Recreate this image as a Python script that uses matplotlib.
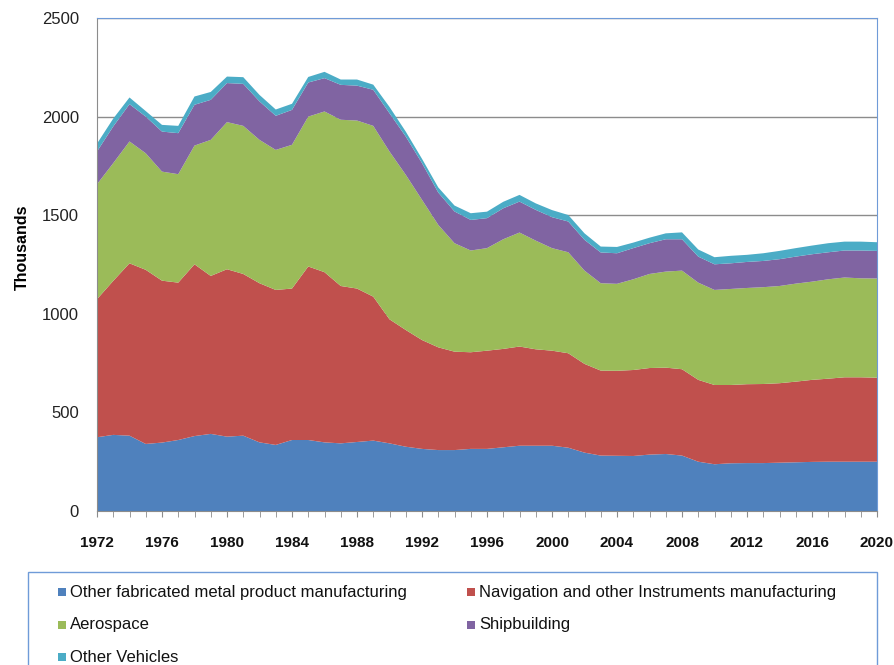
import matplotlib

matplotlib.use("Agg")
import matplotlib.pyplot as plt
from matplotlib.patches import Rectangle
from matplotlib.ticker import MultipleLocator

plt.rcParams["font.family"] = ["Liberation Sans", "DejaVu Sans"]

years = list(range(1972, 2021))
metal = [374, 386, 382, 340, 347, 360, 380, 391, 377, 382, 348, 335, 360, 360, 348, 343,
         350, 357, 343, 326, 315, 309, 309, 315, 315, 323, 331, 331, 331, 321, 296, 281,
         280, 279, 286, 289, 281, 250, 237, 242, 243, 243, 245, 247, 249, 250, 250, 250, 250]
instruments = [700, 781, 874, 883, 821, 798, 871, 801, 849, 820, 807, 786, 768, 880, 863, 798,
               778, 730, 629, 592, 552, 521, 499, 490, 498, 499, 503, 489, 482, 479, 450, 431,
               431, 436, 439, 438, 438, 415, 402, 397, 400, 401, 403, 409, 416, 421, 428, 428, 426]
aerospace = [583, 597, 618, 591, 553, 550, 602, 690, 746, 751, 727, 710, 729, 760, 815, 843,
             852, 866, 851, 787, 711, 621, 550, 516, 520, 556, 578, 551, 520, 512, 473, 443,
             441, 460, 477, 487, 500, 493, 482, 487, 488, 491, 493, 497, 498, 504, 506, 502, 503]
shipbuilding = [166, 186, 189, 186, 203, 208, 207, 203, 198, 213, 195, 173, 177, 173, 169, 177,
                177, 183, 194, 194, 186, 164, 161, 155, 152, 157, 157, 156, 157, 156, 156, 156,
                155, 158, 156, 164, 159, 132, 130, 130, 132, 133, 136, 137, 139, 137, 137, 141, 140]
other_vehicles = [40, 40, 34, 28, 34, 37, 42, 40, 33, 34, 33, 32, 31, 28, 32, 27,
                  31, 26, 32, 25, 22, 26, 30, 34, 33, 33, 34, 33, 36, 33, 33, 30,
                  32, 28, 28, 30, 35, 36, 36, 38, 36, 39, 42, 43, 44, 46, 45, 45, 44]

labels = ["Other fabricated metal product manufacturing",
          "Navigation and other Instruments manufacturing",
          "Aerospace", "Shipbuilding", "Other Vehicles"]
colors = ["#4F81BD", "#C0504D", "#9BBB59", "#8064A2", "#4BACC6"]
xtick_years = list(range(1972, 2021, 4))

fig = plt.figure(figsize=(8.94, 6.65), dpi=100)
ax = fig.add_axes([97 / 894, 154 / 665, 780 / 894, 493 / 665])

ax.stackplot(years, metal, instruments, aerospace, shipbuilding, other_vehicles,
             colors=colors, linewidth=0)

ax.set_xlim(1972, 2020)
ax.set_ylim(0, 2500)
ax.set_yticks([0, 500, 1000, 1500, 2000, 2500])
ax.set_xticks(xtick_years)
ax.xaxis.set_minor_locator(MultipleLocator(1))
ax.yaxis.grid(True, color="#8C8C8C", linewidth=1)
ax.set_axisbelow(True)

for side in ("left", "bottom"):
    ax.spines[side].set_color("#8C8C8C")
for side in ("top", "right"):
    ax.spines[side].set_color("#6F9BD8")

ax.tick_params(axis="y", length=0, pad=13, labelsize=12, labelcolor="#222222")
ax.tick_params(axis="x", which="both", direction="out", length=4, color="#8C8C8C")
ax.tick_params(axis="x", which="major", pad=14, labelsize=11, labelcolor="#111111")
for lab in ax.get_xticklabels():
    lab.set_fontweight("bold")
ax.set_ylabel("Thousands", fontsize=11.5, fontweight="bold")
ax.yaxis.set_label_coords(-0.086, 0.535)

# legend box, cut off at the bottom like the original
fig.patches.append(Rectangle((28 / 894, -0.02), 849 / 894, (665 - 572) / 665 + 0.02,
                             transform=fig.transFigure, facecolor="white",
                             edgecolor="#6F9BD8", linewidth=1))
entry_pos = [(58, 592), (467, 592), (58, 625), (467, 625), (58, 657)]
for (px, py), lab, col in zip(entry_pos, labels, colors):
    fig.patches.append(Rectangle((px / 894, (665 - py - 4) / 665), 8 / 894, 8 / 665,
                                 transform=fig.transFigure, facecolor=col, edgecolor="none"))
    fig.text((px + 12) / 894, (665 - py) / 665, lab, fontsize=12, va="center", ha="left",
             color="#111111")

fig.savefig("out.png", dpi=100)
